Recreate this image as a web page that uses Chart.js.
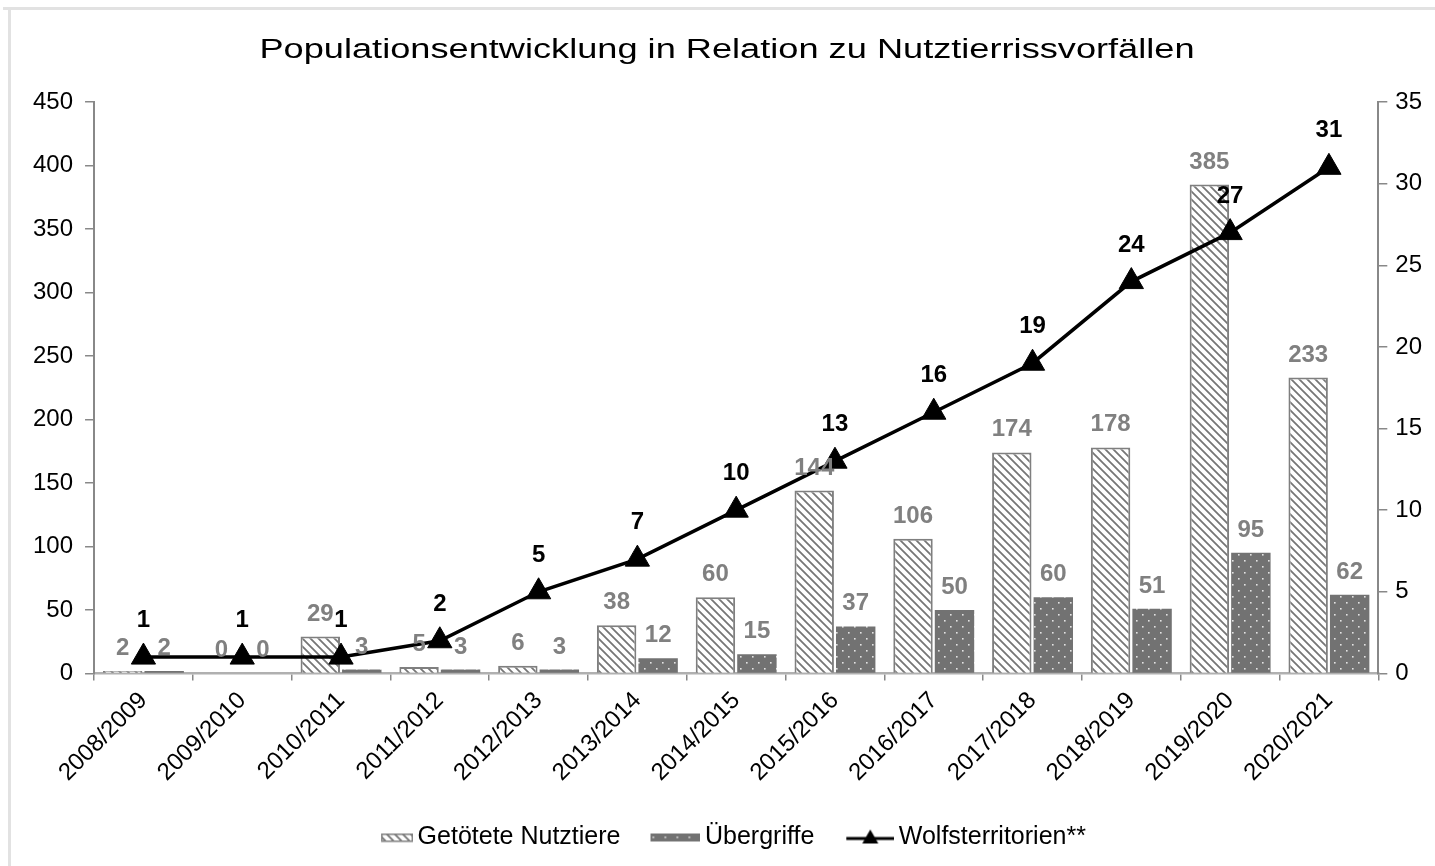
<!DOCTYPE html>
<html><head><meta charset="utf-8">
<script src="https://cdn.jsdelivr.net/npm/chart.js@4.4.1/dist/chart.umd.min.js"></script>
<style>
html,body{margin:0;padding:0;background:#fff;}
#wrap{position:absolute;left:0;top:0;width:1435px;height:866px;}
#bt{position:absolute;left:3px;top:7px;width:1432px;height:3px;background:#e2e2e2;}
#bl{position:absolute;left:8px;top:7px;width:3px;height:859px;background:#e2e2e2;}
canvas{position:absolute;left:0;top:0;}
</style></head>
<body>
<div id="wrap"><canvas id="c" width="1435" height="866"></canvas><div id="bt"></div><div id="bl"></div></div>
<script>
const chartTitle = 'Populationsentwicklung in Relation zu Nutztierrissvorfällen';
const categories = ['2008/2009','2009/2010','2010/2011','2011/2012','2012/2013','2013/2014','2014/2015','2015/2016','2016/2017','2017/2018','2018/2019','2019/2020','2020/2021'];
const getoeteteNutztiere = [2,0,29,5,6,38,60,144,106,174,178,385,233];
const uebergriffe = [2,0,3,3,3,12,15,37,50,60,51,95,62];
const wolfsterritorien = [1,1,1,2,5,7,10,13,16,19,24,27,31];
const seriesNames = ['Getötete Nutztiere','Übergriffe','Wolfsterritorien**'];

const FONT = '"Liberation Sans", Arial, sans-serif';
const GRAY = '#7f7f7f';
function hatchPattern(){
  const s = 8, c = document.createElement('canvas');
  c.width = s; c.height = s;
  const g = c.getContext('2d');
  g.fillStyle = '#fff'; g.fillRect(0,0,s,s);
  g.strokeStyle = '#767676'; g.lineWidth = 1.8;
  g.beginPath();
  g.moveTo(0,0); g.lineTo(s,s);
  g.moveTo(-s,0); g.lineTo(s,2*s);
  g.moveTo(0,-s); g.lineTo(2*s,s);
  g.stroke();
  return c;
}
function dotPattern(){
  const s = 12, c = document.createElement('canvas');
  c.width = s; c.height = s;
  const g = c.getContext('2d');
  g.fillStyle = '#727272'; g.fillRect(0,0,s,s);
  g.fillStyle = 'rgba(255,255,255,0.8)';
  g.fillRect(2,2,1.6,1.6);
  g.fillRect(8,8,1.6,1.6);
  return c;
}
const ctx0 = document.getElementById('c').getContext('2d');
const hatch = ctx0.createPattern(hatchPattern(),'repeat');
const dots = ctx0.createPattern(dotPattern(),'repeat');

function legendIcon(kind){
  const c = document.createElement('canvas');
  c.width = 56; c.height = 18;
  const g = c.getContext('2d');
  if(kind==='hatch'){
    g.fillStyle = g.createPattern(hatchPattern(),'repeat');
    g.fillRect(24,5,32,8);
    g.strokeStyle = GRAY; g.lineWidth = 1.5; g.strokeRect(24.75,5.75,30.5,7);
  } else if(kind==='dots'){
    g.fillStyle = g.createPattern(dotPattern(),'repeat');
    g.fillRect(6,5,50,8);
  } else {
    g.strokeStyle = '#000'; g.lineWidth = 3;
    g.beginPath(); g.moveTo(8,10); g.lineTo(56,10); g.stroke();
    g.fillStyle = '#000';
    g.beginPath(); g.moveTo(32,1); g.lineTo(40,15); g.lineTo(24,15); g.closePath(); g.fill();
  }
  return c;
}
const icons = [legendIcon('hatch'), legendIcon('dots'), legendIcon('line')];

const titlePlugin = {
  id:'stretchedTitle',
  afterDraw(chart){
    const ctx = chart.ctx;
    ctx.save();
    ctx.fillStyle = '#000';
    ctx.font = '27px ' + FONT;
    ctx.textAlign = 'center';
    ctx.textBaseline = 'alphabetic';
    ctx.translate(727, 58);
    ctx.scale(1.34, 1);
    ctx.fillText(chartTitle, 0, 0);
    ctx.restore();
  }
};

const valueLabels = {
  id:'valueLabels',
  afterDatasetsDraw(chart){
    const ctx = chart.ctx;
    ctx.save();
    ctx.textAlign = 'center';
    ctx.textBaseline = 'alphabetic';
    chart.data.datasets.forEach((ds,i)=>{
      const meta = chart.getDatasetMeta(i);
      meta.data.forEach((el,j)=>{
        const v = ds.data[j];
        if(ds.type==='line'){
          ctx.fillStyle = '#000';
          ctx.font = 'bold 24px ' + FONT;
          ctx.fillText(String(v), el.x, el.y - 30);
        } else {
          ctx.fillStyle = '#808080';
          ctx.font = 'bold 24px ' + FONT;
          ctx.fillText(String(v), el.x, el.y - 16);
        }
      });
    });
    ctx.restore();
  }
};

new Chart(document.getElementById('c'), {
  data:{
    labels: categories,
    datasets:[
      {type:'bar', label:seriesNames[0], data:getoeteteNutztiere, backgroundColor:hatch, borderColor:GRAY, borderWidth:2, yAxisID:'y', order:2, categoryPercentage:0.84, barPercentage:0.95},
      {type:'bar', label:seriesNames[1], data:uebergriffe, backgroundColor:dots, borderColor:'#777', borderWidth:0, yAxisID:'y', order:2, categoryPercentage:0.84, barPercentage:0.95},
      {type:'line', label:seriesNames[2], data:wolfsterritorien, borderColor:'#000', backgroundColor:'#000', borderWidth:3.5, pointStyle:'triangle', pointRadius:14, pointBackgroundColor:'#000', pointBorderColor:'#000', pointBorderWidth:1, yAxisID:'y1', order:0, tension:0}
    ]
  },
  options:{
    responsive:false,
    animation:false,
    devicePixelRatio:1,
    layout:{padding:{left:21, right:5, top:102, bottom:6}},
    plugins:{
      title:{display:false},
      legend:{position:'bottom', labels:{usePointStyle:true, pointStyleWidth:40, color:'#000', padding:32, font:{family:FONT, size:25},
        generateLabels(chart){
          return chart.data.datasets.map((d,i)=>({text:d.label, pointStyle:icons[i], datasetIndex:i, fillStyle:'#000', strokeStyle:'#000', lineWidth:0, hidden:false, fontColor:'#000'}));
        }}},
      tooltip:{enabled:false}
    },
    scales:{
      x:{
        grid:{display:true, drawOnChartArea:false, drawTicks:true, tickLength:7, color:'#888', lineWidth:1.5, offset:true},
        border:{display:true, color:'#b0b0b0', width:2.5},
        ticks:{color:'#000', minRotation:45, maxRotation:45, autoSkip:false, padding:6, font:{family:FONT, size:24}}
      },
      y:{
        position:'left', min:0, max:450,
        grid:{display:true, drawOnChartArea:false, drawTicks:true, tickLength:9, color:'#888', lineWidth:1.5},
        border:{display:true, color:'#888', width:2},
        ticks:{stepSize:50, color:'#000', padding:12, font:{family:FONT, size:24}}
      },
      y1:{
        position:'right', min:0, max:35,
        grid:{display:true, drawOnChartArea:false, drawTicks:true, tickLength:9, color:'#888', lineWidth:1.5},
        border:{display:true, color:'#888', width:2},
        ticks:{stepSize:5, color:'#000', padding:8, font:{family:FONT, size:24}}
      }
    }
  },
  plugins:[valueLabels, titlePlugin]
});
</script>
</body></html>
